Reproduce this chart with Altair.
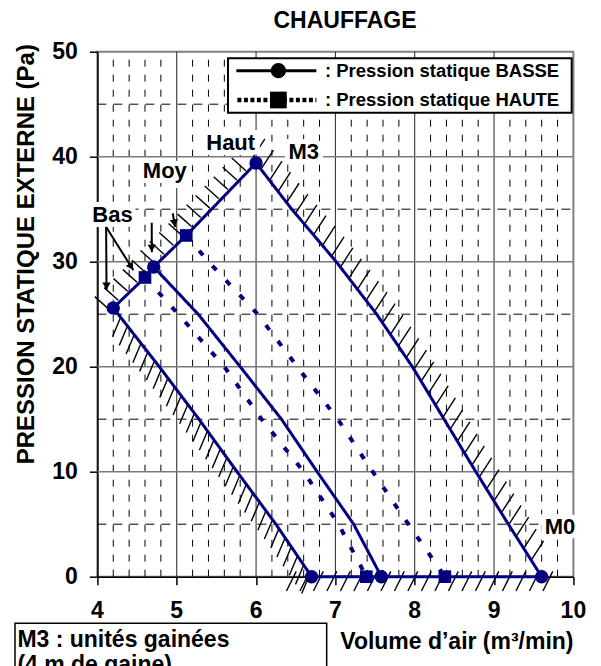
import altair as alt
import numpy as np
import pandas as pd

W, H = 476, 525
X0, X1, Y0, Y1 = 4, 10, 0, 50
SX = W / (X1 - X0)
SY = H / (Y1 - Y0)
NAVY = "#000080"
FONT = "Liberation Sans"

# ---------------- data ----------------
bas_basse_x = [4.2, 4.78, 5.28, 5.76, 6.25, 6.7]
bas_basse_y = [25.6, 20, 15, 10, 5, 0]
bas_haute_x = [4.6, 5.02, 5.6, 6.07, 6.6, 7.04, 7.39]
bas_haute_y = [28.5, 25, 20, 15, 10, 5, 0]
moy_basse_x = [4.71, 5.27, 5.8, 6.32, 6.77, 7.23, 7.58]
moy_basse_y = [29.5, 25, 20, 15, 10, 5, 0]
moy_haute_x = [5.12, 5.4, 6.02, 6.62, 7.03, 7.47, 7.92, 8.38]
moy_haute_y = [32.5, 30, 25, 19, 15, 10, 5, 0]
haut_x = [6.0, 6.45, 7.01, 7.52, 7.97, 8.37, 8.77, 9.18, 9.6]
haut_y = [39.4, 35, 30, 25, 20, 15, 10, 5, 0]
speed_x = [4.2, 4.6, 4.71, 5.12, 6.0]
speed_y = [25.6, 28.5, 29.5, 32.5, 39.4]
zero_x = [6.7, 7.39, 7.58, 8.38, 9.6]
zero_y = [0, 0, 0, 0, 0]

circle_x = [4.2, 4.71, 6.0, 6.7, 7.58, 9.6]
circle_y = [25.6, 29.5, 39.4, 0, 0, 0]
square_x = [4.6, 5.12, 7.39, 8.38]
square_y = [28.5, 32.5, 0, 0]

label_text = ["Bas", "Moy", "Haut", "M3", "M0"]
label_x = [4.19, 4.85, 5.68, 6.60, 9.83]
label_y = [34.4, 38.6, 41.3, 40.4, 4.7]

arrow_x = [4.11, 4.11, 4.685, 4.95]
arrow_y = [33.3, 33.3, 33.7, 34.6]
arrow_x2 = [4.115, 4.453, 4.686, 4.98]
arrow_y2 = [27.3, 29.2, 30.9, 33.3]

x_ticks = [4, 5, 6, 7, 8, 9, 10]
y_ticks = [0, 10, 20, 30, 40, 50]
x_major_grid = [5, 6, 7, 8, 9]
y_major_grid = [10, 20, 30, 40]
x_minor_grid = [4.2, 4.4, 4.6, 4.8, 5.2, 5.4, 5.6, 5.8, 6.2, 6.4, 6.6, 6.8,
                7.2, 7.4, 7.6, 7.8, 8.2, 8.4, 8.6, 8.8, 9.2, 9.4, 9.6, 9.8]
y_minor_grid = [5, 15, 25, 35, 45]

xs = alt.Scale(domain=[X0, X1], nice=False, zero=False)
ys = alt.Scale(domain=[Y0, Y1], nice=False, zero=False)

X_AXIS = alt.Axis(
    values=x_ticks, grid=False, labels=False,
    title="Volume d’air (m³/min)", titleFontSize=23, titleX=359, titleY=65,
    titleBaseline="middle", titleAlign="center")
Y_AXIS = alt.Axis(
    values=y_ticks, grid=False, labels=False,
    title="PRESSION STATIQUE EXTERNE (Pa)", titleFontSize=24, titleX=-71, titleY=202,
    titleAngle=270, titleBaseline="middle", titleAlign="center")


def X(field="x"):
    return alt.X(f"{field}:Q", scale=xs, axis=X_AXIS)


def Y(field="y"):
    return alt.Y(f"{field}:Q", scale=ys, axis=Y_AXIS)


# ---------------- hatching along the envelope ----------------
def hatch(xv, yv, step, d, length, off=0.0, s0=0.0, s1=0.0):
    P = np.array([((x - X0) * SX, H - (y - Y0) * SY) for x, y in zip(xv, yv)])
    seg = np.diff(P, axis=0)
    L = np.hypot(seg[:, 0], seg[:, 1])
    cum = np.concatenate([[0], np.cumsum(L)])
    total = cum[-1]
    d = np.array(d, dtype=float)
    d = d / np.hypot(*d)
    rows = []
    s = s0
    while s <= total - s1:
        i = int(np.searchsorted(cum, s, side="right") - 1)
        i = max(0, min(i, len(L) - 1))
        t = (s - cum[i]) / L[i]
        p = P[i] + t * seg[i]
        a = p + d * off
        b = p + d * (off + length)
        rows.append(dict(x=X0 + a[0] / SX, y=Y0 + (H - a[1]) / SY,
                         x2=X0 + b[0] / SX, y2=Y0 + (H - b[1]) / SY))
        s += step
    return rows


hrows = []
hrows += hatch(bas_basse_x, bas_basse_y, 11, (-0.42, 1), 21, 0, 12, -4)
hrows += hatch(speed_x, speed_y, 13, (-1, -0.9), 19, 2, -4, 6)
hrows += hatch(haut_x, haut_y, 14, (0.55, -0.85), 22, 1, -6, 12)
hrows += hatch(zero_x, zero_y, 13.5, (0.45, -0.9), 22, -16, -18, -10)
hatch_df = pd.DataFrame(hrows)

# ---------------- line table ----------------
series = [
    ("bas_basse", "solid", bas_basse_x, bas_basse_y),
    ("bas_haute", "dotted", bas_haute_x, bas_haute_y),
    ("moy_basse", "solid", moy_basse_x, moy_basse_y),
    ("moy_haute", "dotted", moy_haute_x, moy_haute_y),
    ("haut", "solid", haut_x, haut_y),
    ("speed", "solid", speed_x, speed_y),
    ("zero", "solid", zero_x, zero_y),
]
lrows = []
for name, style, xv, yv in series:
    for i, (x, y) in enumerate(zip(xv, yv)):
        lrows.append(dict(s=name, style=style, i=i, x=x, y=y))
lines_df = pd.DataFrame(lrows)

circ_df = pd.DataFrame(dict(x=circle_x, y=circle_y))
sq_df = pd.DataFrame(dict(x=square_x, y=square_y))
lab_df = pd.DataFrame(dict(t=label_text, x=label_x, y=label_y))
xlab_df = pd.DataFrame(dict(x=x_ticks, t=[str(v) for v in x_ticks]))
ylab_df = pd.DataFrame(dict(y=y_ticks, t=[str(v) for v in y_ticks]))

arr_df = pd.DataFrame(dict(x=arrow_x, y=arrow_y, x2=arrow_x2, y2=arrow_y2))
heads = []
for x, y, x2, y2 in zip(arrow_x, arrow_y, arrow_x2, arrow_y2):
    dx = (x2 - x) * SX
    dy = -(y2 - y) * SY
    n = np.hypot(dx, dy)
    ux, uy = dx / n, dy / n
    hx = x2 - ux * 4 / SX
    hy = y2 + uy * 4 / SY
    ang = (-np.degrees(np.arctan2(dx, dy))) % 360
    heads.append(dict(x=hx, y=hy, a=ang))
head_df = pd.DataFrame(heads)

one = pd.DataFrame({"a": [0]})
BOLD = dict(font=FONT, fontWeight="bold", color="black")

# ---------------- layers ----------------
axes = alt.Chart(pd.DataFrame({"x": [X0, X1], "y": [Y0, Y1]})).mark_point(opacity=0).encode(
    x=X(), y=Y())
xlabels = alt.Chart(xlab_df).mark_text(fontSize=23, align="center", baseline="middle", **BOLD).encode(
    x=X(), y=alt.value(H + 34.5), text="t:N")
ylabels = alt.Chart(ylab_df).mark_text(fontSize=23, align="right", baseline="middle", **BOLD).encode(
    y=Y(), x=alt.value(-19.5), text="t:N")

g_vminor = alt.Chart(pd.DataFrame({"x": x_minor_grid})).mark_rule(
    color="black", strokeWidth=1, strokeDash=[7, 8]).encode(
    x=X(), y=alt.value(H), y2=alt.value(0))
g_hminor = alt.Chart(pd.DataFrame({"y": y_minor_grid})).mark_rule(
    color="black", strokeWidth=1, strokeDash=[9, 7]).encode(
    y=Y(), x=alt.value(0), x2=alt.value(W))
g_vmajor = alt.Chart(pd.DataFrame({"x": x_major_grid})).mark_rule(
    color="#222222", strokeWidth=1).encode(x=X(), y=alt.value(H), y2=alt.value(0))
g_hmajor = alt.Chart(pd.DataFrame({"y": y_major_grid})).mark_rule(
    color="#7a7a7a", strokeWidth=1.6).encode(y=Y(), x=alt.value(0), x2=alt.value(W))

hatch_layer = alt.Chart(hatch_df).mark_rule(color="black", strokeWidth=1.4, clip=False).encode(
    x=X(), y=Y(), x2="x2:Q", y2="y2:Q")

lab_halo = alt.Chart(lab_df).mark_text(
    font=FONT, fontSize=22, fontWeight="bold", stroke="white", strokeWidth=10,
    color="white", align="center", baseline="middle").encode(x=X(), y=Y(), text="t:N")
lab_text = alt.Chart(lab_df).mark_text(
    fontSize=22, align="center", baseline="middle", **BOLD).encode(x=X(), y=Y(), text="t:N")

arrows = alt.Chart(arr_df).mark_rule(color="black", strokeWidth=2).encode(
    x=X(), y=Y(), x2="x2:Q", y2="y2:Q")
arrow_heads = alt.Chart(head_df).mark_point(
    shape="triangle-down", filled=True, color="black", size=70, opacity=1).encode(
    x=X(), y=Y(), angle=alt.Angle("a:Q", scale=None))

lines = alt.Chart(lines_df).mark_line(color=NAVY, clip=False).encode(
    x=X(), y=Y(), detail="s:N", order="i:Q",
    strokeDash=alt.StrokeDash("style:N", scale=alt.Scale(
        domain=["solid", "dotted"], range=[[1, 0], [6, 14]]), legend=None),
    strokeWidth=alt.StrokeWidth("style:N", scale=alt.Scale(
        domain=["solid", "dotted"], range=[3, 4]), legend=None))
circles = alt.Chart(circ_df).mark_point(
    shape="circle", filled=True, color=NAVY, size=180, opacity=1, clip=False).encode(x=X(), y=Y())
squares = alt.Chart(sq_df).mark_point(
    shape="square", filled=True, color=NAVY, size=160, opacity=1, clip=False).encode(x=X(), y=Y())

# legend (manual)
leg_box = alt.Chart(one).mark_rect(fill="white", stroke="black", strokeWidth=2).encode(
    x=alt.value(130.6), x2=alt.value(474.3), y=alt.value(6.6), y2=alt.value(61))
leg_l1 = alt.Chart(one).mark_rule(color="black", strokeWidth=3).encode(
    x=alt.value(139), x2=alt.value(219), y=alt.value(19))
leg_p1 = alt.Chart(one).mark_point(shape="circle", filled=True, color="black", size=230, opacity=1).encode(
    x=alt.value(181), y=alt.value(19))
leg_l2 = alt.Chart(one).mark_rule(color="black", strokeWidth=4.5, strokeDash=[4, 2.5]).encode(
    x=alt.value(140), x2=alt.value(219), y=alt.value(48.3))
leg_p2 = alt.Chart(one).mark_point(shape="square", filled=True, color="black", size=280, opacity=1).encode(
    x=alt.value(181), y=alt.value(48.3))
leg_t1 = alt.Chart(one).mark_text(text=": Pression statique BASSE", fontSize=18.5,
                                  align="left", baseline="middle", **BOLD).encode(
    x=alt.value(227.6), y=alt.value(19))
leg_t2 = alt.Chart(one).mark_text(text=": Pression statique HAUTE", fontSize=18.5,
                                  align="left", baseline="middle", **BOLD).encode(
    x=alt.value(227.6), y=alt.value(48.3))

title = alt.Chart(one).mark_text(text="CHAUFFAGE", fontSize=23,
                                 align="center", baseline="middle", **BOLD).encode(
    x=alt.value(247.6), y=alt.value(-30.7))

note_box = alt.Chart(one).mark_rect(fill="white", stroke="black", strokeWidth=1.5).encode(
    x=alt.value(-82.4), x2=alt.value(229.3), y=alt.value(571.6), y2=alt.value(660))
note_t1 = alt.Chart(one).mark_text(text="M3 : unités gainées", fontSize=23,
                                   align="left", baseline="middle", **BOLD).encode(
    x=alt.value(-80), y=alt.value(588.3))
note_t2 = alt.Chart(one).mark_text(text="(4 m de gaine)", fontSize=23,
                                   align="left", baseline="middle", **BOLD).encode(
    x=alt.value(-80), y=alt.value(613.5))

chart = alt.layer(
    axes, xlabels, ylabels, g_vminor, g_hminor, g_vmajor, g_hmajor,
    hatch_layer, lab_halo, lab_text, arrows, arrow_heads,
    lines, circles, squares,
    leg_box, leg_l1, leg_p1, leg_l2, leg_p2, leg_t1, leg_t2,
    title, note_box, note_t1, note_t2,
).properties(
    width=W, height=H,
    autosize=alt.AutoSizeParams(type="none"),
    padding={"left": 89.4, "top": 43.7, "right": 15, "bottom": 100},
).configure_view(
    stroke="#808080", strokeWidth=2
).configure_axis(
    domainColor="black", domainWidth=1.5, tickColor="black", tickWidth=1.5, tickSize=8,
    titleFont=FONT, titleFontWeight="bold", titleColor="black",
)

chart.save("out.html", embed_options={"renderer": "svg", "actions": False})
